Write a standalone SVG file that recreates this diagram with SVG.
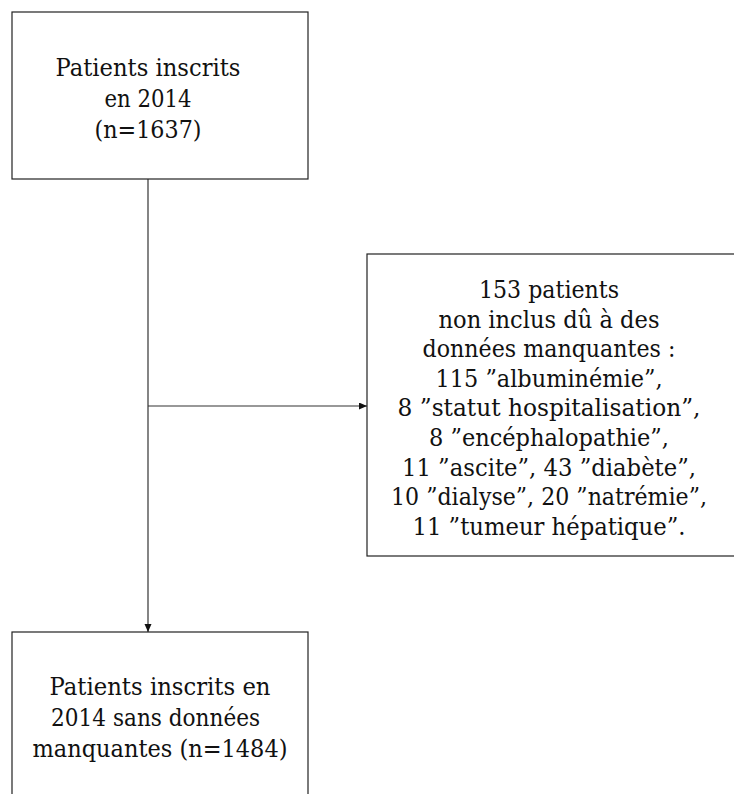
<svg xmlns="http://www.w3.org/2000/svg" width="734" height="794" viewBox="0 0 734 794">
  <style>
    .box { fill: #ffffff; stroke: #222222; stroke-width: 1.2; }
    .edge { fill: none; stroke: #333333; stroke-width: 1.2; }
    .t { font-family: 'DejaVu Serif', 'Liberation Serif', 'Noto Serif', serif; font-size: 24px; fill: #111111; text-anchor: middle; }
  </style>
  <defs>
    <marker id="arrow" markerUnits="userSpaceOnUse" markerWidth="10" markerHeight="8" refX="8" refY="3.5" orient="auto">
      <path d="M0,0 L8,3.5 L0,7 z" fill="#111111"/>
    </marker>
  </defs>
  <rect width="734" height="794" fill="#ffffff"/>

  <g id="connectors">
    <line class="edge" x1="148" y1="179" x2="148" y2="632" marker-end="url(#arrow)"/>
    <line class="edge" x1="148" y1="406" x2="367" y2="406" marker-end="url(#arrow)"/>
  </g>

  <g id="node-inscrits">
    <rect class="box" x="12" y="12" width="296" height="167"/>
    <text class="t" x="148" y="76" textLength="185" lengthAdjust="spacingAndGlyphs">Patients inscrits</text>
    <text class="t" x="148" y="107" textLength="87" lengthAdjust="spacingAndGlyphs">en 2014</text>
    <text class="t" x="148" y="138" textLength="107" lengthAdjust="spacingAndGlyphs">(n=1637)</text>
  </g>

  <g id="node-exclus">
    <rect class="box" x="367" y="254" width="370" height="302"/>
    <text class="t" x="549" y="298" textLength="140" lengthAdjust="spacingAndGlyphs">153 patients</text>
    <text class="t" x="549" y="327.6" textLength="221" lengthAdjust="spacingAndGlyphs">non inclus dû à des</text>
    <text class="t" x="549" y="357.2" textLength="253" lengthAdjust="spacingAndGlyphs">données manquantes :</text>
    <text class="t" x="549" y="386.8" textLength="227" lengthAdjust="spacingAndGlyphs">115 ”albuminémie”,</text>
    <text class="t" x="549" y="416.4" textLength="303" lengthAdjust="spacingAndGlyphs">8 ”statut hospitalisation”,</text>
    <text class="t" x="549" y="446" textLength="240" lengthAdjust="spacingAndGlyphs">8 ”encéphalopathie”,</text>
    <text class="t" x="549" y="475.6" textLength="294" lengthAdjust="spacingAndGlyphs">11 ”ascite”, 43 ”diabète”,</text>
    <text class="t" x="549" y="505.2" textLength="316" lengthAdjust="spacingAndGlyphs">10 ”dialyse”, 20 ”natrémie”,</text>
    <text class="t" x="549" y="534.8" textLength="273" lengthAdjust="spacingAndGlyphs">11 ”tumeur hépatique”.</text>
  </g>

  <g id="node-inclus">
    <rect class="box" x="12" y="632" width="296" height="170"/>
    <text class="t" x="160" y="695" textLength="221" lengthAdjust="spacingAndGlyphs">Patients inscrits en</text>
    <text class="t" x="155.6" y="726" textLength="209" lengthAdjust="spacingAndGlyphs">2014 sans données</text>
    <text class="t" x="160" y="757" textLength="255" lengthAdjust="spacingAndGlyphs">manquantes (n=1484)</text>
  </g>
</svg>
